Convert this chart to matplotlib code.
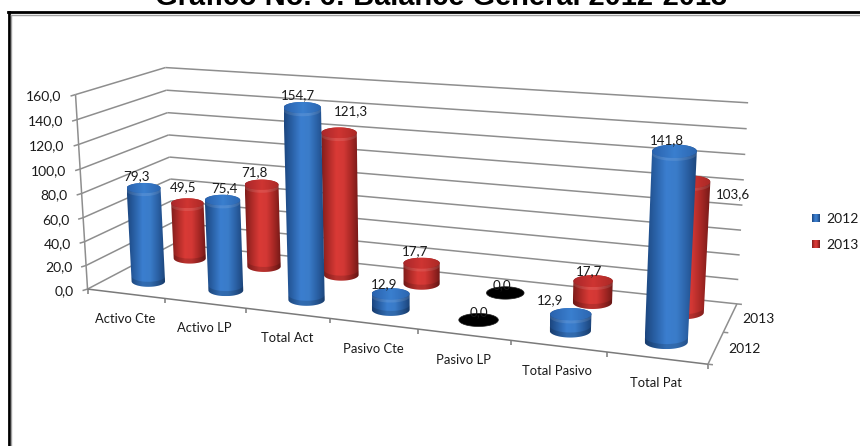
import numpy as np
import matplotlib
matplotlib.use("Agg")
import matplotlib.pyplot as plt
from matplotlib.path import Path
from matplotlib.patches import PathPatch, Polygon
from matplotlib.colors import LinearSegmentedColormap

# ---- data ----
categories = ["Activo Cte", "Activo LP", "Total Act", "Pasivo Cte", "Pasivo LP", "Total Pasivo", "Total Pat"]
values_2012 = [79.3, 75.4, 154.7, 12.9, 0.0, 12.9, 141.8]
values_2013 = [49.5, 71.8, 121.3, 17.7, 0.0, 17.7, 103.6]
series_names = ["2012", "2013"]
value_ticks = [0, 20, 40, 60, 80, 100, 120, 140, 160]

# ---- layout ----
W, H = 860, 446
ZMAX = 160.0
anchors_world = [(0, 0, 0), (7, 0, 0), (7, 2, 0), (0, 2, 0), (0, 0, 160), (0, 2, 160), (7, 2, 160)]
anchors_px = [(88, 288), (708, 365), (737, 303), (173, 245), (75, 95), (166, 67), (748, 103)]
label_off_2012 = [(-7, -12), (2, -12), (-4, -12), (-6, -10), (0, -8), (-21, -14), (-8, -11)]
label_off_2013 = [(-4, -16), (-7, -13), (12, -22), (-7, -12), (-3, -8), (-4, -10), (44, 12)]
RX = 0.22
LID_RATIO, FOOT_RATIO = 0.30, 0.33

plt.rcParams["font.family"] = ["Lato", "DejaVu Sans"]
TXT = "#1a1a1a"
FS = 10.0


def fit_projection(world, px):
    rows, rhs = [], []
    for (x, y, z), (u, v) in zip(world, px):
        rows.append([x, y, z, 1, 0, 0, 0, 0, -u * x, -u * y, -u * z])
        rhs.append(u)
        rows.append([0, 0, 0, 0, x, y, z, 1, -v * x, -v * y, -v * z])
        rhs.append(v)
    sol = np.linalg.lstsq(np.array(rows, float), np.array(rhs, float), rcond=None)[0]
    return np.append(sol, 1.0).reshape(3, 4)


P = fit_projection(anchors_world, anchors_px)


def project(x, y, z):
    x, y, z = np.broadcast_arrays(np.asarray(x, float), np.asarray(y, float), np.asarray(z, float))
    q = P @ np.stack([x.ravel(), y.ravel(), z.ravel(), np.ones(x.size)])
    return np.column_stack([q[0] / q[2], q[1] / q[2]])


def hull(pts):
    p = sorted(map(tuple, pts))
    def half(seq):
        out = []
        for a in seq:
            while len(out) >= 2 and ((out[-1][0] - out[-2][0]) * (a[1] - out[-2][1])
                                     - (out[-1][1] - out[-2][1]) * (a[0] - out[-2][0])) <= 0:
                out.pop()
            out.append(a)
        return out[:-1]
    return np.array(half(p) + half(p[::-1]))


fig = plt.figure(figsize=(W / 100, H / 100), dpi=100)
ax = fig.add_axes([0, 0, 1, 1])
ax.axis("off")

GRID = "#8e8e8e"


def seg(a, b, c=GRID, lw=1.1, z=2):
    ax.plot([a[0], b[0]], [a[1], b[1]], color=c, lw=lw, zorder=z, solid_capstyle="butt")


# frame
ax.plot([8.5, 8.5], [446, 12], color="black", lw=2.0, zorder=1)
ax.plot([8, 860], [12, 12], color="black", lw=2.0, zorder=1)
ax.plot([11, 11], [446, 14.5], color="#a0a0a0", lw=1.0, zorder=1)
ax.plot([11, 860], [14.5, 14.5], color="#a0a0a0", lw=1.0, zorder=1)

# title (cropped by the top of the picture, as in the reference)
ax.text(441.5, 5, "Gráfico No. 6: Balance General 2012-2013", family="Liberation Sans", weight="bold",
        fontsize=20.9, ha="center", va="baseline", color="black", clip_on=False)

# walls and floor
for v in value_ticks:
    f, b, r = project([0, 0, 7], [0, 2, 2], [v, v, v])
    seg(f, b)
    seg(b, r)
    seg(f, f + np.array([-5, 1.5]))
    ax.text(f[0] - 14, f[1] + 2, f"{v:.1f}".replace(".", ","), ha="right", va="center", fontsize=FS, color=TXT)
a0, a1 = project([0, 0], [0, 0], [0, ZMAX])
seg(a0, a1)
fr0, fr1, bk1 = project([0, 7, 7], [0, 0, 2], [0, 0, 0])
seg(fr0, fr1, c="#7a7a7a")
seg(fr1, bk1)
for i in range(8):
    t = project(i, 0, 0)[0]
    seg(t, t + np.array([0, 5]), c="#7a7a7a")
for d in range(3):
    t = project(7, d, 0)[0]
    seg(t, t + np.array([5, 0.5]))

# category labels
for i, c in enumerate(categories):
    pt = project(i + 0.5, 0, 0)[0]
    ax.text(pt[0] - 1, pt[1] + 25, c, ha="center", va="center", fontsize=9.4, color=TXT)
# depth labels
for name, (x, y) in zip(series_names, [(744, 349), (758, 319)]):
    ax.text(x, y, name, ha="center", va="center", fontsize=FS, color=TXT)

blue = dict(body=["#1c467f", "#2a62a8", "#3b7ecf", "#3a7cc9", "#2a60a4", "#1b4378"],
            top=["#2a62ad", "#3a7fcf", "#2c66b0"])
red = dict(body=["#7f1d1b", "#b02b28", "#d93a36", "#d33835", "#a82825", "#731917"],
           top=["#a8272a", "#cf3532", "#ab2926"])
theta = np.linspace(0, 2 * np.pi, 120, endpoint=False)


def gradient(cols, poly, zorder):
    cmap = LinearSegmentedColormap.from_list("g", cols)
    x0, x1 = poly[:, 0].min(), poly[:, 0].max()
    y0, y1 = poly[:, 1].min(), poly[:, 1].max()
    im = ax.imshow(np.linspace(0, 1, 128)[None, :], cmap=cmap, extent=[x0, x1, y1, y0], aspect="auto",
                   zorder=zorder, interpolation="bilinear")
    patch = PathPatch(Path(np.vstack([poly, poly[:1]])), transform=ax.transData, fc="none", ec="none")
    ax.add_patch(patch)
    im.set_clip_path(patch)


def ellipse(i, depth, z_val, ratio):
    c = project(i + 0.5, depth, z_val)[0]
    l, r = project([i + 0.5 - RX, i + 0.5 + RX], [depth, depth], [z_val, z_val])
    a = (r[0] - l[0]) / 2
    return np.column_stack([c[0] + a * np.cos(theta), c[1] + ratio * a * np.sin(theta)])


def cylinder(i, depth, v, style, z):
    base = ellipse(i, depth, 0.0, FOOT_RATIO)
    if v == 0:
        ax.add_patch(Polygon(base, closed=True, fc="black", ec="#202020", lw=0.5, zorder=z))
        return
    top = ellipse(i, depth, v, LID_RATIO)
    sil = hull(np.vstack([base, top]))
    gradient(style["body"], sil, z)
    # dark bevel at the foot
    c = base.mean(axis=0)
    low = base[base[:, 1] >= c[1]]
    low = low[np.argsort(low[:, 0])]
    band = np.vstack([low, (low - [0, 5])[::-1]])
    ax.add_patch(Polygon(band, closed=True, fc="black", ec="none", alpha=0.14, zorder=z + 0.1))
    # light rim below the lid
    tc = top.mean(axis=0)
    tlow = top[top[:, 1] >= tc[1]]
    tlow = tlow[np.argsort(tlow[:, 0])]
    band2 = np.vstack([tlow, (tlow + [0, 3])[::-1]])
    ax.add_patch(Polygon(band2, closed=True, fc="white", ec="none", alpha=0.10, zorder=z + 0.1))
    gradient(style["top"], top, z + 0.2)


z = 5
for depth, vals, st in [(1.5, values_2013, red), (0.5, values_2012, blue)]:
    for i, v in enumerate(vals):
        cylinder(i, depth, v, st, z)
        z += 1

# data labels
for depth, vals, offs in [(1.5, values_2013, label_off_2013), (0.5, values_2012, label_off_2012)]:
    for i, (v, o) in enumerate(zip(vals, offs)):
        t = project(i + 0.5, depth, v)[0]
        ax.text(t[0] + o[0], t[1] + o[1], f"{v:.1f}".replace(".", ","), ha="center", va="center",
                fontsize=9.6, color=TXT, zorder=100)

# legend
for name, st, y in [(series_names[0], blue, 218), (series_names[1], red, 244)]:
    sq = np.array([[812, y - 4.5], [820, y - 4.5], [820, y + 4.5], [812, y + 4.5]], float)
    gradient(st["body"], sq, 50)
    ax.text(826, y + 1, name, ha="left", va="center", fontsize=FS, color=TXT)

ax.set_xlim(0, W)
ax.set_ylim(H, 0)
fig.savefig("out.png", dpi=100, facecolor="white")
